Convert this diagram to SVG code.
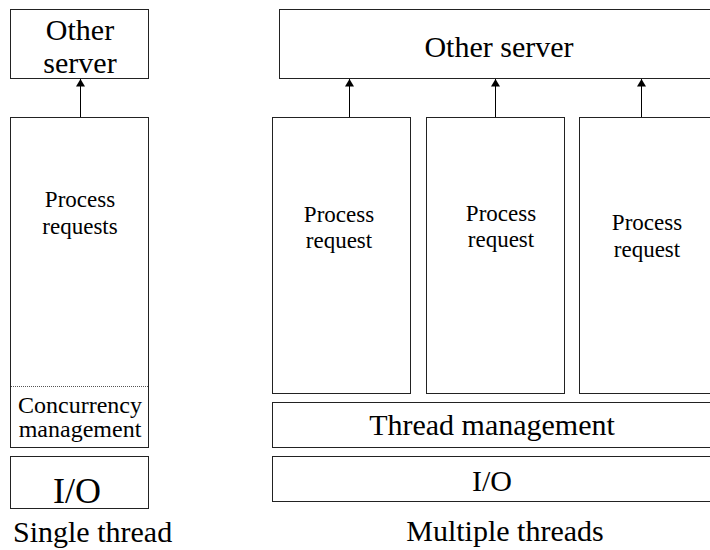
<svg xmlns="http://www.w3.org/2000/svg" width="710" height="550" viewBox="0 0 710 550" font-family="'Liberation Serif', 'Times New Roman', 'DejaVu Serif', serif">
<defs>
<marker id="arr" viewBox="0 0 10 12" refX="10" refY="6" markerWidth="12" markerHeight="9" markerUnits="userSpaceOnUse" orient="auto">
<path d="M0,0 L10,6 L0,12 Z" fill="#000"/>
</marker>
</defs>
<style>
.box{fill:#fff;stroke:#222;stroke-width:1}
text{font-family:'Liberation Serif','Times New Roman','DejaVu Serif',serif;fill:#000}
.t{text-anchor:middle}
.big{font-size:30px}
.sm{font-size:23px}
.ln{stroke:#000;stroke-width:1;fill:none}
</style>
<rect width="710" height="550" fill="#fff"/>
<g id="left-other-server">
<rect class="box" x="10.5" y="9.5" width="138" height="69"/>
<text class="t big" x="80" y="40">Other</text>
<text class="t big" x="80" y="73">server</text>
</g>
<g id="left-process">
<rect class="box" x="10.5" y="117.5" width="138" height="330"/>
<line x1="11" y1="386.5" x2="148" y2="386.5" stroke="#555" stroke-width="1" stroke-dasharray="1,1"/>
<text class="t sm" x="80" y="207">Process</text>
<text class="t sm" x="80" y="234">requests</text>
<text class="t" font-size="24" x="80" y="413">Concurrency</text>
<text class="t" font-size="24" x="80" y="437">management</text>
</g>
<g id="left-io">
<rect class="box" x="10.5" y="456.5" width="138" height="52"/>
<text class="t" font-size="36" x="77" y="503">I/O</text>
</g>
<text class="big" x="13" y="542">Single thread</text>
<g id="right-other-server">
<rect class="box" x="279.5" y="9.5" width="440" height="69"/>
<text class="t big" x="499" y="57">Other server</text>
</g>
<g id="pr1">
<rect class="box" x="272.5" y="117.5" width="138" height="276"/>
<text class="t sm" x="339" y="222">Process</text>
<text class="t sm" x="339" y="248">request</text>
</g>
<g id="pr2">
<rect class="box" x="426.5" y="117.5" width="138" height="276"/>
<text class="t sm" x="501" y="221">Process</text>
<text class="t sm" x="501" y="247">request</text>
</g>
<g id="pr3">
<rect class="box" x="579.5" y="117.5" width="138" height="276"/>
<text class="t sm" x="647" y="230">Process</text>
<text class="t sm" x="647" y="257">request</text>
</g>
<g id="thread-mgmt">
<rect class="box" x="272.5" y="402.5" width="440" height="45"/>
<text class="t big" x="492" y="435">Thread management</text>
</g>
<g id="right-io">
<rect class="box" x="272.5" y="456.5" width="440" height="45"/>
<text class="t big" x="492" y="491">I/O</text>
</g>
<text class="t big" x="505" y="541">Multiple threads</text>
<g id="connectors">
<line class="ln" x1="80.5" y1="117" x2="80.5" y2="79" marker-end="url(#arr)"/>
<line class="ln" x1="349.5" y1="117" x2="349.5" y2="79" marker-end="url(#arr)"/>
<line class="ln" x1="495.5" y1="117" x2="495.5" y2="79" marker-end="url(#arr)"/>
<line class="ln" x1="641.5" y1="117" x2="641.5" y2="79" marker-end="url(#arr)"/>
</g>
</svg>
